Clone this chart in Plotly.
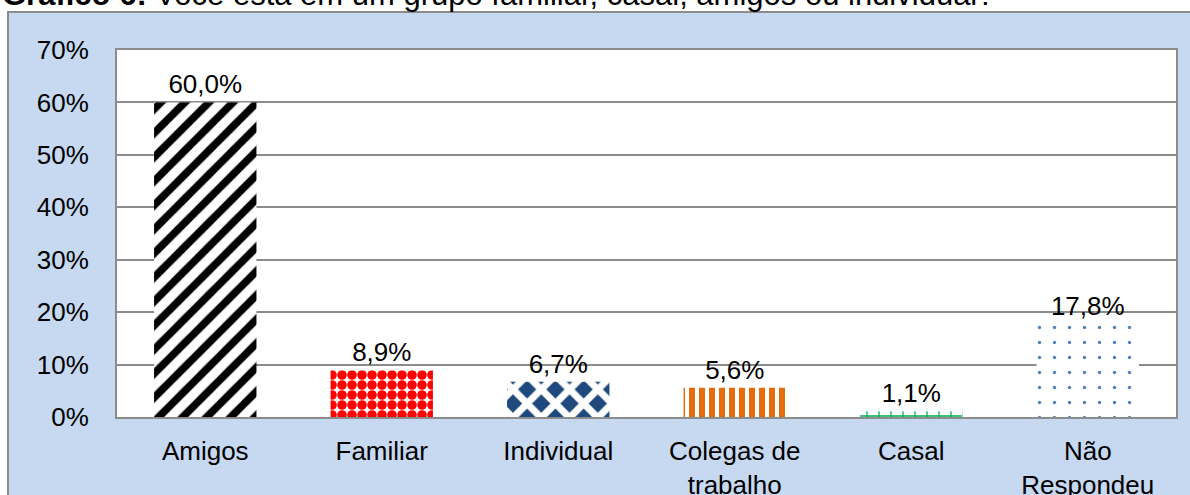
import plotly.graph_objects as go

categorias = ['Amigos', 'Familiar', 'Individual', 'Colegas de<br>trabalho', 'Casal', 'Não<br>Respondeu']
percentuais = [60.0, 8.9, 6.7, 5.6, 1.1, 17.8]
y_ticks = [0, 10, 20, 30, 40, 50, 60, 70]
y_ticktext = ['0%', '10%', '20%', '30%', '40%', '50%', '60%', '70%']
titulo = '<b>Gráfico 6:</b> Você está em um grupo familiar, casal, amigos ou individual?'

# one pattern per bar, like the Excel original
padroes = [
    dict(shape='/', fgcolor='#000000', bgcolor='#ffffff', size=17, solidity=0.45),
    dict(shape='.', fgcolor='#ff0000', bgcolor='#ffffff', size=10, solidity=0.72),
    dict(shape='x', fgcolor='#ffffff', bgcolor='#1f497d', size=20, solidity=0.58),
    dict(shape='|', fgcolor='#e46c0a', bgcolor='#ffffff', size=10, solidity=0.6),
    dict(shape='+', fgcolor='#00b050', bgcolor='#ffffff', size=12, solidity=0.2),
    dict(shape='.', fgcolor='#4f81bd', bgcolor='#ffffff', size=15, solidity=0.04),
]

fig = go.Figure()
fig.add_trace(go.Bar(
    x=categorias,
    y=percentuais,
    width=0.58,
    marker=dict(
        color='#ffffff',
        line=dict(width=0),
        pattern=dict(
            shape=[p['shape'] for p in padroes],
            fgcolor=[p['fgcolor'] for p in padroes],
            bgcolor=[p['bgcolor'] for p in padroes],
            size=[p['size'] for p in padroes],
            solidity=[p['solidity'] for p in padroes],
            fgopacity=1,
        ),
    ),
    texttemplate='%{y:.1f}%',
    textposition='outside',
    textfont=dict(size=26, color='#000000'),
    cliponaxis=False,
))

# light blue chart area, then white plot area on top of it
fig.add_shape(
    type='rect', xref='paper', yref='paper', layer='below',
    x0=-109 / 1059, x1=1.02, y0=-0.3, y1=405 / 367,
    fillcolor='#c6d9f1', line=dict(color='#8c8c8c', width=2),
)
fig.add_shape(
    type='rect', xref='paper', yref='paper', layer='below',
    x0=0, x1=1, y0=0, y1=1,
    fillcolor='#ffffff', line=dict(width=0),
)

fig.add_annotation(
    text=titulo, xref='paper', yref='paper', x=-117 / 1059, y=403 / 367,
    xanchor='left', yanchor='bottom', showarrow=False,
    font=dict(size=31, color='#000000'),
)

fig.update_layout(
    width=1190,
    height=495,
    margin=dict(l=117, r=14, t=50, b=78),
    paper_bgcolor='#ffffff',
    plot_bgcolor='#ffffff',
    separators=',.',
    showlegend=False,
    font=dict(family='Liberation Sans, Arial', size=26, color='#000000'),
)
fig.update_xaxes(
    automargin=False,
    showgrid=False,
    showline=True, linecolor='#8c8c8c', linewidth=2, mirror=True,
    ticks='', ticklabelstandoff=10,
    tickfont=dict(size=26),
)
fig.update_yaxes(
    automargin=False,
    range=[0, 70],
    tickvals=y_ticks,
    ticktext=y_ticktext,
    showgrid=True, gridcolor='#8c8c8c', gridwidth=2,
    showline=True, linecolor='#8c8c8c', linewidth=2, mirror=True,
    zeroline=False,
    ticks='', ticklabelstandoff=21,
    tickfont=dict(size=26),
)

# the page default body margin would shift the figure by 8px
fig.write_html('out.html', config={'displayModeBar': False},
               post_script="document.body.style.margin='0';")
